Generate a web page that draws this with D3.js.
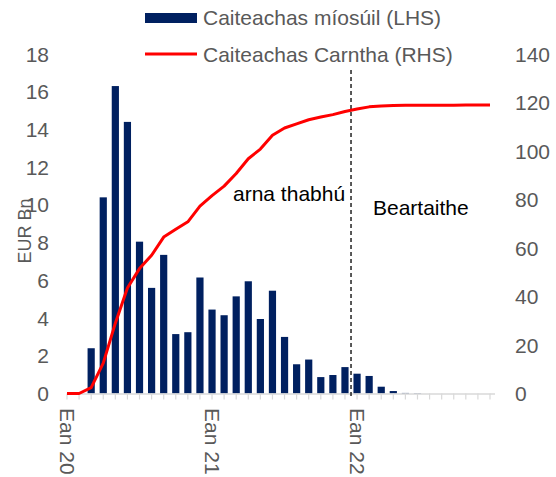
<!DOCTYPE html>
<html><head><meta charset="utf-8">
<script src="https://cdn.jsdelivr.net/npm/d3@7"></script>
<style>body{margin:0;background:#fff}svg{display:block}text{font-family:"Liberation Sans",Arial,sans-serif}</style>
</head><body><svg id="c" width="556" height="477"></svg>
<script>
const months = ["Ean 20","Feabh 20","Márta 20","Aib 20","Beal 20","Meith 20","Iúil 20","Lún 20","MFómh 20","DFómh 20","Samh 20","Noll 20",
"Ean 21","Feabh 21","Márta 21","Aib 21","Beal 21","Meith 21","Iúil 21","Lún 21","MFómh 21","DFómh 21","Samh 21","Noll 21",
"Ean 22","Feabh 22","Márta 22","Aib 22","Beal 22","Meith 22","Iúil 22","Lún 22","MFómh 22","DFómh 22","Samh 22","Noll 22"];
const tickLabels = ["Ean 20","Ean 21","Ean 22"];
const monthly = [0,0,2.4,10.4,16.3,14.4,8.05,5.6,7.35,3.15,3.25,6.15,
4.45,4.15,5.15,5.95,3.95,5.45,3.0,1.55,1.8,0.87,0.98,1.4,
1.05,0.93,0.36,0.13,0.03,0.02,0,0,0,0,0,0];
const cumulative = [0,0,2.4,12.5,29,43.5,51.5,57,64.5,67.7,70.8,77.3,
81.6,85.5,90.7,96.8,100.8,106.5,109.5,111.2,112.9,114,115,116.3,
117.3,118.2,118.6,118.8,118.9,118.9,118.9,118.9,118.9,119,119,119];
const leftTicks = [0,2,4,6,8,10,12,14,16,18];
const rightTicks = [0,20,40,60,80,100,120,140];
const seriesNames = ["Caiteachas míosúil (LHS)","Caiteachas Carntha (RHS)"];
const annotations = ["arna thabhú","Beartaithe"];
const splitAfter = "Noll 21";

const svg = d3.select("#c");
const x = d3.scalePoint().domain(months).range([67, 490]);
const yL = d3.scaleLinear().domain([0,18]).range([393.5,54]);
const yR = d3.scaleLinear().domain([0,140]).range([393.5,54]);
const grey = "#595959";
const fs = 21;

// bars
svg.append("g").selectAll("rect").data(months.map((m,i)=>({m,v:monthly[i]}))).join("rect")
  .attr("x", d=>x(d.m)-3.6).attr("width",7.2)
  .attr("y", d=>yL(d.v)).attr("height", d=>yL(0)-yL(d.v))
  .attr("fill","#002060");

// x axis
const axisG = svg.append("g");
axisG.append("line").attr("x1",x(months[0])).attr("x2",x(months[months.length-1])+5)
  .attr("y1",yL(0)+0.5).attr("y2",yL(0)+0.5).attr("stroke","#d9d9d9").attr("stroke-width",1.5);
axisG.selectAll("line.t").data(months).join("line").attr("class","t")
  .attr("x1",d=>x(d)).attr("x2",d=>x(d)).attr("y1",yL(0)).attr("y2",yL(0)+6)
  .attr("stroke","#d9d9d9").attr("stroke-width",1.2);
axisG.selectAll("text").data(tickLabels).join("text")
  .attr("transform",d=>`translate(${x(d)-7.5},${408}) rotate(90)`)
  .attr("font-size",fs).attr("fill",grey).text(d=>d);

// left axis labels
svg.append("g").selectAll("text").data(leftTicks).join("text")
  .attr("x",49).attr("y",d=>yL(d)+7.5).attr("text-anchor","end")
  .attr("font-size",fs).attr("fill",grey).text(d=>d);
// right axis labels
svg.append("g").selectAll("text").data(rightTicks).join("text")
  .attr("x",515).attr("y",d=>yR(d)+7.5).attr("text-anchor","start")
  .attr("font-size",fs).attr("fill",grey).text(d=>d);

// y title
svg.append("text").attr("transform","translate(31,231) rotate(-90)")
  .attr("text-anchor","middle").attr("font-size",18).attr("fill",grey).text("EUR Bn");

// dashed split line
const si = months.indexOf(splitAfter);
const xs = (x(months[si])+x(months[si+1]))/2;
svg.append("line").attr("x1",xs).attr("x2",xs).attr("y1",70).attr("y2",399)
  .attr("stroke","#000").attr("stroke-width",1.3).attr("stroke-dasharray","4,3");

// cumulative line
svg.append("path").datum(months.map((m,i)=>[x(m),yR(cumulative[i])]))
  .attr("d",d3.line()).attr("fill","none").attr("stroke","#ff0000").attr("stroke-width",3)
  .attr("stroke-linejoin","round");

// annotations
svg.append("text").attr("x",233).attr("y",201).attr("font-size",fs).attr("fill","#000").text(annotations[0]);
svg.append("text").attr("x",373).attr("y",215).attr("font-size",fs).attr("fill","#000").text(annotations[1]);

// legend
svg.append("rect").attr("x",145).attr("y",13).attr("width",52).attr("height",10).attr("fill","#002060");
svg.append("text").attr("x",203).attr("y",25).attr("font-size",fs).attr("fill",grey).text(seriesNames[0]);
svg.append("line").attr("x1",145).attr("x2",197).attr("y1",54).attr("y2",54).attr("stroke","#ff0000").attr("stroke-width",3);
svg.append("text").attr("x",203).attr("y",62).attr("font-size",fs).attr("fill",grey).text(seriesNames[1]);
</script></body></html>
